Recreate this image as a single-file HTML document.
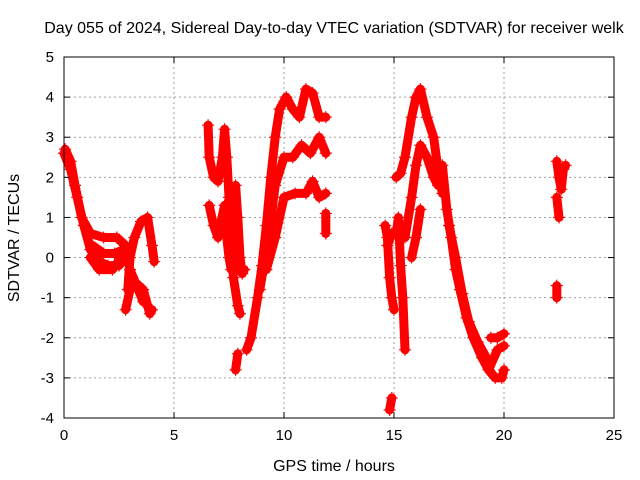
<!DOCTYPE html>
<html><head><meta charset="utf-8"><style>
body{margin:0;background:#fff}
svg{display:block;font-family:"Liberation Sans",sans-serif}
</style></head><body>
<svg id="chart" width="640" height="480">
<text x="334" y="33" font-size="16" text-anchor="middle">Day 055 of 2024, Sidereal Day-to-day VTEC variation (SDTVAR) for receiver welk</text>
<text x="334" y="471" font-size="16" text-anchor="middle">GPS time / hours</text>
<text transform="translate(19,238) rotate(-90)" font-size="16" text-anchor="middle">SDTVAR / TECUs</text>
<g id="grid"></g><g id="marks"></g><g id="axes"></g>
</svg>
<script>
const xTicks=[0,5,10,15,20,25];
const yTicks=[-4,-3,-2,-1,0,1,2,3,4,5];
const tracks=[
[[0,2.6],[0.3,2.2],[0.6,1.5],[0.9,0.8],[1.2,0.2],[1.6,-0.1],[2.0,-0.2],[2.5,-0.2],[2.8,0.0]],
[[0.05,2.7],[0.3,2.4],[0.5,1.8],[0.8,1.0],[1.2,0.6],[1.8,0.5],[2.4,0.5],[2.8,0.3]],
[[1.2,0.0],[1.6,-0.3],[2.2,-0.3],[2.6,0.0]],
[[1.3,0.3],[1.8,0.1],[2.3,0.1],[2.7,0.2]],
[[2.9,-0.8],[3.0,0.0],[3.2,0.5],[3.5,0.9],[3.8,1.0],[4.0,0.3],[4.1,-0.1]],
[[2.8,-1.3],[3.0,-0.8],[3.2,-0.6],[3.6,-0.8],[3.9,-1.4],[4.0,-1.3]],
[[3.0,-0.3],[3.3,-0.7],[3.6,-1.1]],
[[6.55,3.3],[6.6,2.5],[6.8,2.0],[7.0,1.9],[7.2,2.5],[7.3,3.2],[7.4,2.5],[7.5,1.5],[7.6,0.5],[7.7,-0.5],[7.9,-1.2],[8.0,-1.4]],
[[6.6,1.3],[6.8,0.8],[7.0,0.5],[7.1,0.8],[7.3,1.3],[7.4,0.5],[7.5,0.0],[7.6,-0.3]],
[[7.8,1.8],[7.9,1.0],[8.0,0.0],[8.1,-0.4],[8.2,-0.3]],
[[7.8,-2.8],[7.9,-2.4]],
[[8.3,-2.3],[8.5,-2.0],[8.8,-1.0],[9.0,-0.2],[9.2,0.8],[9.4,2.0],[9.6,3.0],[9.8,3.7],[10.1,4.0],[10.4,3.7],[10.7,3.5],[11.0,4.2],[11.3,4.1],[11.6,3.5],[11.9,3.5]],
[[8.9,-0.8],[9.3,0.5],[9.6,1.8],[10.0,2.5],[10.4,2.5],[10.8,2.8],[11.2,2.6],[11.6,3.0],[11.9,2.6]],
[[9.2,-0.3],[9.6,0.5],[10.0,1.5],[10.5,1.6],[11.0,1.6],[11.3,1.9],[11.6,1.5],[11.9,1.6]],
[[11.9,1.1],[11.9,0.6]],
[[14.6,0.8],[14.7,0.5],[14.8,-0.5],[14.9,-1.0],[15.0,-1.3]],
[[14.8,-3.8],[14.9,-3.5]],
[[14.7,0.3],[14.9,0.6],[15.1,0.6],[15.2,1.0],[15.3,-0.2],[15.4,-1.0],[15.5,-2.3]],
[[15.1,2.0],[15.3,2.1],[15.5,2.5],[15.8,3.5],[16.0,4.0],[16.2,4.2],[16.5,3.5],[16.8,3.0],[17.0,2.2],[17.2,1.6]],
[[15.5,0.5],[15.8,1.5],[16.0,2.3],[16.2,2.8],[16.5,2.5],[16.8,2.0],[17.0,1.8]],
[[15.8,0.0],[16.0,0.5],[16.2,1.2]],
[[17.2,2.3],[17.4,1.2],[17.6,0.5],[17.8,-0.3],[18.0,-0.8],[18.3,-1.5],[18.6,-2.0],[19.0,-2.5],[19.3,-2.8],[19.6,-3.0],[19.9,-3.0],[20.0,-2.8]],
[[17.5,0.8],[17.8,0.0],[18.1,-0.9],[18.4,-1.6],[18.8,-2.1],[19.2,-2.5]],
[[19.4,-2.0],[19.7,-2.0],[20.0,-1.9]],
[[19.3,-2.8],[19.7,-2.3],[20.0,-2.2]],
[[22.4,2.4],[22.5,2.0],[22.6,1.7],[22.7,2.2],[22.8,2.3]],
[[22.4,1.5],[22.5,1.0]],
[[22.4,-0.7],[22.4,-1.0]]
];
const L=64,R=614,T=57,B=418;
const sx=v=>L+(v-0)/25*(R-L);
const sy=v=>B-(v+4)/9*(B-T);
const NS='http://www.w3.org/2000/svg';
function mk(t,a,p){const e=document.createElementNS(NS,t);for(const k in a)e.setAttribute(k,a[k]);p.appendChild(e);return e;}
const grid=document.getElementById('grid'),marks=document.getElementById('marks'),axes=document.getElementById('axes');
xTicks.forEach(v=>{
 if(v>0&&v<25){const g=mk('line',{x1:sx(v),x2:sx(v),y1:T,y2:B,stroke:'#a0a0a0','stroke-dasharray':'2,3'},grid);
 
 }
 mk('line',{x1:sx(v),x2:sx(v),y1:B,y2:B-6,stroke:'#000'},axes);
 mk('line',{x1:sx(v),x2:sx(v),y1:T,y2:T+6,stroke:'#000'},axes);
 const t=mk('text',{x:sx(v),y:B+22,'font-size':15,'text-anchor':'middle'},axes);t.textContent=v;
 
 
});
yTicks.forEach(v=>{
 if(v>-4&&v<5){const g=mk('line',{x1:L,x2:R,y1:sy(v),y2:sy(v),stroke:'#a0a0a0','stroke-dasharray':'2,3'},grid);
 
 }
 mk('line',{x1:L,x2:L+6,y1:sy(v),y2:sy(v),stroke:'#000'},axes);
 mk('line',{x1:R,x2:R-6,y1:sy(v),y2:sy(v),stroke:'#000'},axes);
 const t=mk('text',{x:L-10,y:sy(v)+5,'font-size':15,'text-anchor':'end'},axes);t.textContent=v;
 
 
});
const fr=mk('rect',{x:L,y:T,width:R-L,height:B-T,fill:'none',stroke:'#000'},axes);


tracks.forEach(tr=>{
 const g=mk('g',{},marks);
 
 
 mk('polyline',{points:tr.map(p=>sx(p[0])+','+sy(p[1])).join(' '),fill:'none',stroke:'#f00','stroke-width':9,'stroke-linejoin':'round','stroke-linecap':'round'},g);
 tr.forEach(p=>{const x=sx(p[0]),y=sy(p[1]);
  mk('path',{d:`M${x-6},${y}H${x+6}M${x},${y-6}V${y+6}`,stroke:'#f00','stroke-width':1.2},g);});
});
</script>
</body></html>
